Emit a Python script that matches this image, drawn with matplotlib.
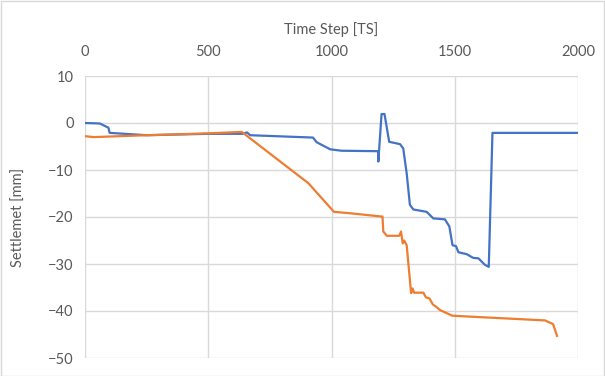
import matplotlib
matplotlib.use("Agg")
import matplotlib.pyplot as plt
from matplotlib.patches import Rectangle

plt.rcParams['font.family'] = ['Lato', 'DejaVu Sans']

# Blue series (time step, settlement mm)
blue_ts = [0, 60, 95, 100, 250, 500, 640, 657, 670, 925, 940, 995, 1040, 1189, 1190,
           1203, 1215, 1234, 1278, 1291, 1305, 1318, 1332, 1386, 1413, 1460, 1478,
           1491, 1505, 1515, 1548, 1575, 1596, 1623, 1638, 1653, 2000]
blue_mm = [0, -0.1, -1.0, -2.1, -2.6, -2.3, -2.3, -2.0, -2.6, -3.1, -4.1, -5.6, -5.9, -6.0, -8.2,
           1.9, 1.9, -4.0, -4.5, -5.4, -10.7, -17.4, -18.4, -18.9, -20.3, -20.5, -22.0,
           -26.0, -26.2, -27.5, -27.9, -28.7, -28.8, -30.2, -30.6, -2.1, -2.1]

# Orange series
orange_ts = [0, 35, 250, 500, 636, 906, 1010, 1075, 1203, 1207, 1210, 1217, 1224, 1275,
             1282, 1289, 1295, 1305, 1318, 1323, 1329, 1335, 1373, 1383, 1397, 1411,
             1427, 1440, 1490, 1600, 1866, 1899, 1915]
orange_mm = [-2.8, -3.0, -2.6, -2.2, -1.9, -12.8, -18.9, -19.2, -19.9, -19.9, -23.1, -23.5, -24.0, -24.0,
             -23.1, -25.6, -25.0, -26.0, -33.4, -36.2, -35.2, -36.1, -36.1, -37.1, -37.3, -38.6,
             -39.2, -39.8, -41.0, -41.3, -42.0, -42.8, -45.3]

x_ticks = [0, 500, 1000, 1500, 2000]
y_ticks = [-50, -40, -30, -20, -10, 0, 10]

fig = plt.figure(figsize=(6.05, 3.76), dpi=100)
ax = fig.add_axes([85/605, 18/376, (578-85)/605, (358-76)/376])

ax.plot(blue_ts, blue_mm, color='#4472C4', lw=1.6, solid_joinstyle='round', zorder=3)
ax.plot(orange_ts, orange_mm, color='#ED7D31', lw=1.6, solid_joinstyle='round', zorder=3)

ax.set_xlim(0, 2000)
ax.set_ylim(-50, 10)
ax.set_xticks(x_ticks)
ax.set_yticks(y_ticks)
ax.xaxis.tick_top()
ax.xaxis.set_label_position('top')
ax.grid(True, color='#d9d9d9', lw=1.0)
ax.set_axisbelow(True)
for s in ax.spines.values():
    s.set_visible(False)
ax.tick_params(length=0, labelsize=10.5, labelcolor='#595959', pad=8)
ax.tick_params(axis='x', pad=12)
ax.set_xlabel('Time Step [TS]', fontsize=10.5, color='#595959', labelpad=8)
ax.set_ylabel('Settlemet [mm]', fontsize=10.5, color='#595959', labelpad=16)

fig.patches.append(Rectangle((0.5/605, 0.5/376), 1 - 1.5/605, 1 - 1.5/376,
                             transform=fig.transFigure, fill=False,
                             edgecolor='#d9d9d9', lw=1.0))

fig.savefig('out.png', dpi=100)
